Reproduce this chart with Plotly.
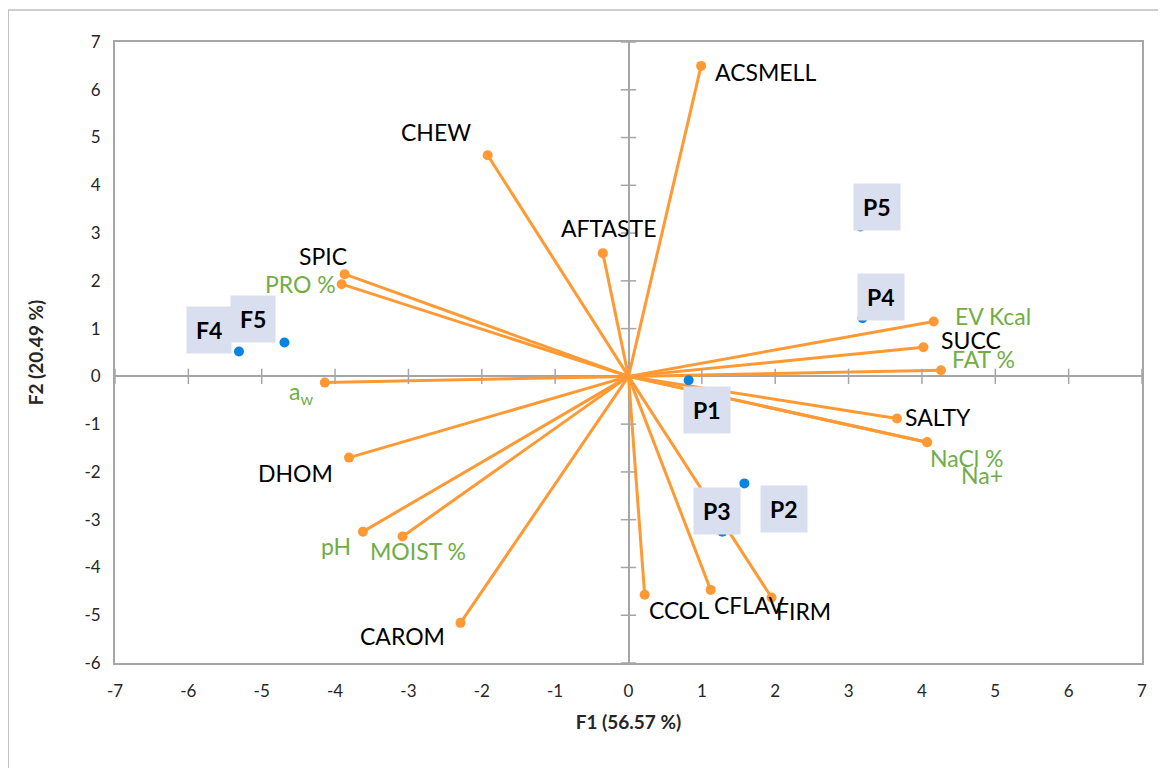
import plotly.graph_objects as go

# Variable vectors (loadings scaled)
var_names = ["ACSMELL", "CHEW", "AFTASTE", "SPIC", "PRO %", "a<sub>w</sub>", "DHOM", "pH",
             "MOIST %", "CAROM", "CCOL", "CFLAV", "FIRM", "SALTY", "NaCl %", "Na+",
             "FAT %", "SUCC", "EV Kcal"]
var_x = [0.99, -1.92, -0.35, -3.87, -3.91, -4.14, -3.81, -3.62,
         -3.08, -2.29, 0.22, 1.12, 1.95, 3.66, 4.07, 4.07,
         4.26, 4.02, 4.16]
var_y = [6.50, 4.63, 2.58, 2.14, 1.93, -0.13, -1.70, -3.25,
         -3.35, -5.16, -4.57, -4.47, -4.63, -0.88, -1.38, -1.38,
         0.13, 0.61, 1.15]
var_kind = ["sens", "sens", "sens", "sens", "chem", "chem", "sens", "chem",
            "chem", "sens", "sens", "sens", "sens", "sens", "chem", "chem",
            "chem", "sens", "chem"]

# Product scores
prod_names = ["F4", "F5", "P1", "P2", "P3", "P4", "P5"]
prod_x = [-5.31, -4.69, 0.82, 1.58, 1.28, 3.19, 3.16]
prod_y = [0.52, 0.71, -0.08, -2.24, -3.25, 1.22, 3.14]

tick_vals = list(range(-7, 8))
ytick_vals = list(range(-6, 8))
tick_text = [str(v) for v in tick_vals]
ytick_text = [str(v) for v in ytick_vals]

ORANGE = "#FF9933"
GREEN = "#70AD47"
BLUE = "#0A84E0"
GREY = "#A6A6A6"
FONT = "Lato"

# label placement (pixel offsets)
var_label_pos = {
    "ACSMELL": ("left", 12, -6),
    "CHEW": ("right", -15, 23),
    "AFTASTE": ("center", 6, 25),
    "SPIC": ("right", 4, 18),
    "PRO %": ("right", -4, 0),
    "a<sub>w</sub>": ("right", -10, -10),
    "DHOM": ("right", -14, -15),
    "pH": ("right", -10, -14),
    "MOIST %": ("center", 15, -15),
    "CAROM": ("right", -14, -13),
    "CCOL": ("left", 2, -15),
    "CFLAV": ("left", 1, -15),
    "FIRM": ("left", 2, -13),
    "SALTY": ("left", 6, 1),
    "NaCl %": ("left", 1, -16),
    "Na+": ("left", 32, -33),
    "FAT %": ("left", 9, 11),
    "SUCC": ("left", 16, 7),
    "EV Kcal": ("left", 19, 5),
}
prod_label_pos = {
    "F4": (-30, 22),
    "F5": (-31, 23),
    "P1": (18, -30),
    "P2": (40, -26),
    "P3": (-5, 21),
    "P4": (18, 21),
    "P5": (17, 19),
}

fig = go.Figure()

# vector lines
lx, ly = [], []
for x, y in zip(var_x, var_y):
    lx += [0, x, None]
    ly += [0, y, None]
fig.add_trace(go.Scatter(x=lx, y=ly, mode="lines",
                         line=dict(color=ORANGE, width=3), hoverinfo="skip",
                         showlegend=False))
fig.add_trace(go.Scatter(x=var_x, y=var_y, mode="markers",
                         marker=dict(color=ORANGE, size=10), showlegend=False))

# axis tick marks crossing the zero lines
xt = [t for t in tick_vals if t != 0]
yt = [t for t in ytick_vals if t != 0]
fig.add_trace(go.Scatter(x=xt, y=[0] * len(xt), mode="markers", hoverinfo="skip",
                         marker=dict(symbol="line-ns", size=11,
                                     line=dict(color=GREY, width=1.5)),
                         showlegend=False))
fig.add_trace(go.Scatter(x=[0] * len(yt), y=yt, mode="markers", hoverinfo="skip",
                         marker=dict(symbol="line-ew", size=11,
                                     line=dict(color=GREY, width=1.5)),
                         showlegend=False))

# product points
fig.add_trace(go.Scatter(x=prod_x, y=prod_y, mode="markers",
                         marker=dict(color=BLUE, size=10), showlegend=False))

annotations = []
for n, x, y, k in zip(var_names, var_x, var_y, var_kind):
    anc, dx, dy = var_label_pos[n]
    annotations.append(dict(x=x, y=y, text=n, showarrow=False, xanchor=anc,
                            yanchor="middle", xshift=dx, yshift=dy,
                            font=dict(family=FONT, size=23,
                                      color=GREEN if k == "chem" else "#000000")))
for n, x, y in zip(prod_names, prod_x, prod_y):
    dx, dy = prod_label_pos[n]
    annotations.append(dict(x=x, y=y, text="<b>" + n + "</b>", showarrow=False,
                            xanchor="center", yanchor="middle", xshift=dx, yshift=dy,
                            bgcolor="#D9DFEF", borderpad=9,
                            font=dict(family=FONT, size=23, color="#000000")))

fig.update_layout(
    width=1166, height=768,
    margin=dict(l=107, r=32, t=34, b=113),
    plot_bgcolor="white", paper_bgcolor="white",
    font=dict(family=FONT, size=17, color="#262626"),
    annotations=annotations,
    shapes=[dict(type="rect", xref="paper", yref="paper",
                 x0=-0.104, x1=1.2, y0=-0.5, y1=1.0515,
                 line=dict(color="#BFBFBF", width=1.5), layer="below")],
)
fig.update_xaxes(range=[-7, 7], tickvals=tick_vals, ticktext=tick_text, showgrid=False,
                 zeroline=True, zerolinecolor=GREY, zerolinewidth=1.5,
                 showline=True, mirror=True, linecolor=GREY, linewidth=2,
                 ticks="outside", ticklen=12, tickcolor="rgba(0,0,0,0)",
                 title=dict(text="<b>F1 (56.57 %)</b>", standoff=15,
                            font=dict(family=FONT, size=19, color="#262626")))
fig.update_yaxes(range=[-6, 7], tickvals=ytick_vals, ticktext=ytick_text, showgrid=False,
                 zeroline=True, zerolinecolor=GREY, zerolinewidth=1.5,
                 showline=True, mirror=True, linecolor=GREY, linewidth=2,
                 ticks="outside", ticklen=9, tickcolor="rgba(0,0,0,0)",
                 title=dict(text="<b>F2 (20.49 %)</b>", standoff=36,
                            font=dict(family=FONT, size=19, color="#262626")))

fig.write_html("out.html")
